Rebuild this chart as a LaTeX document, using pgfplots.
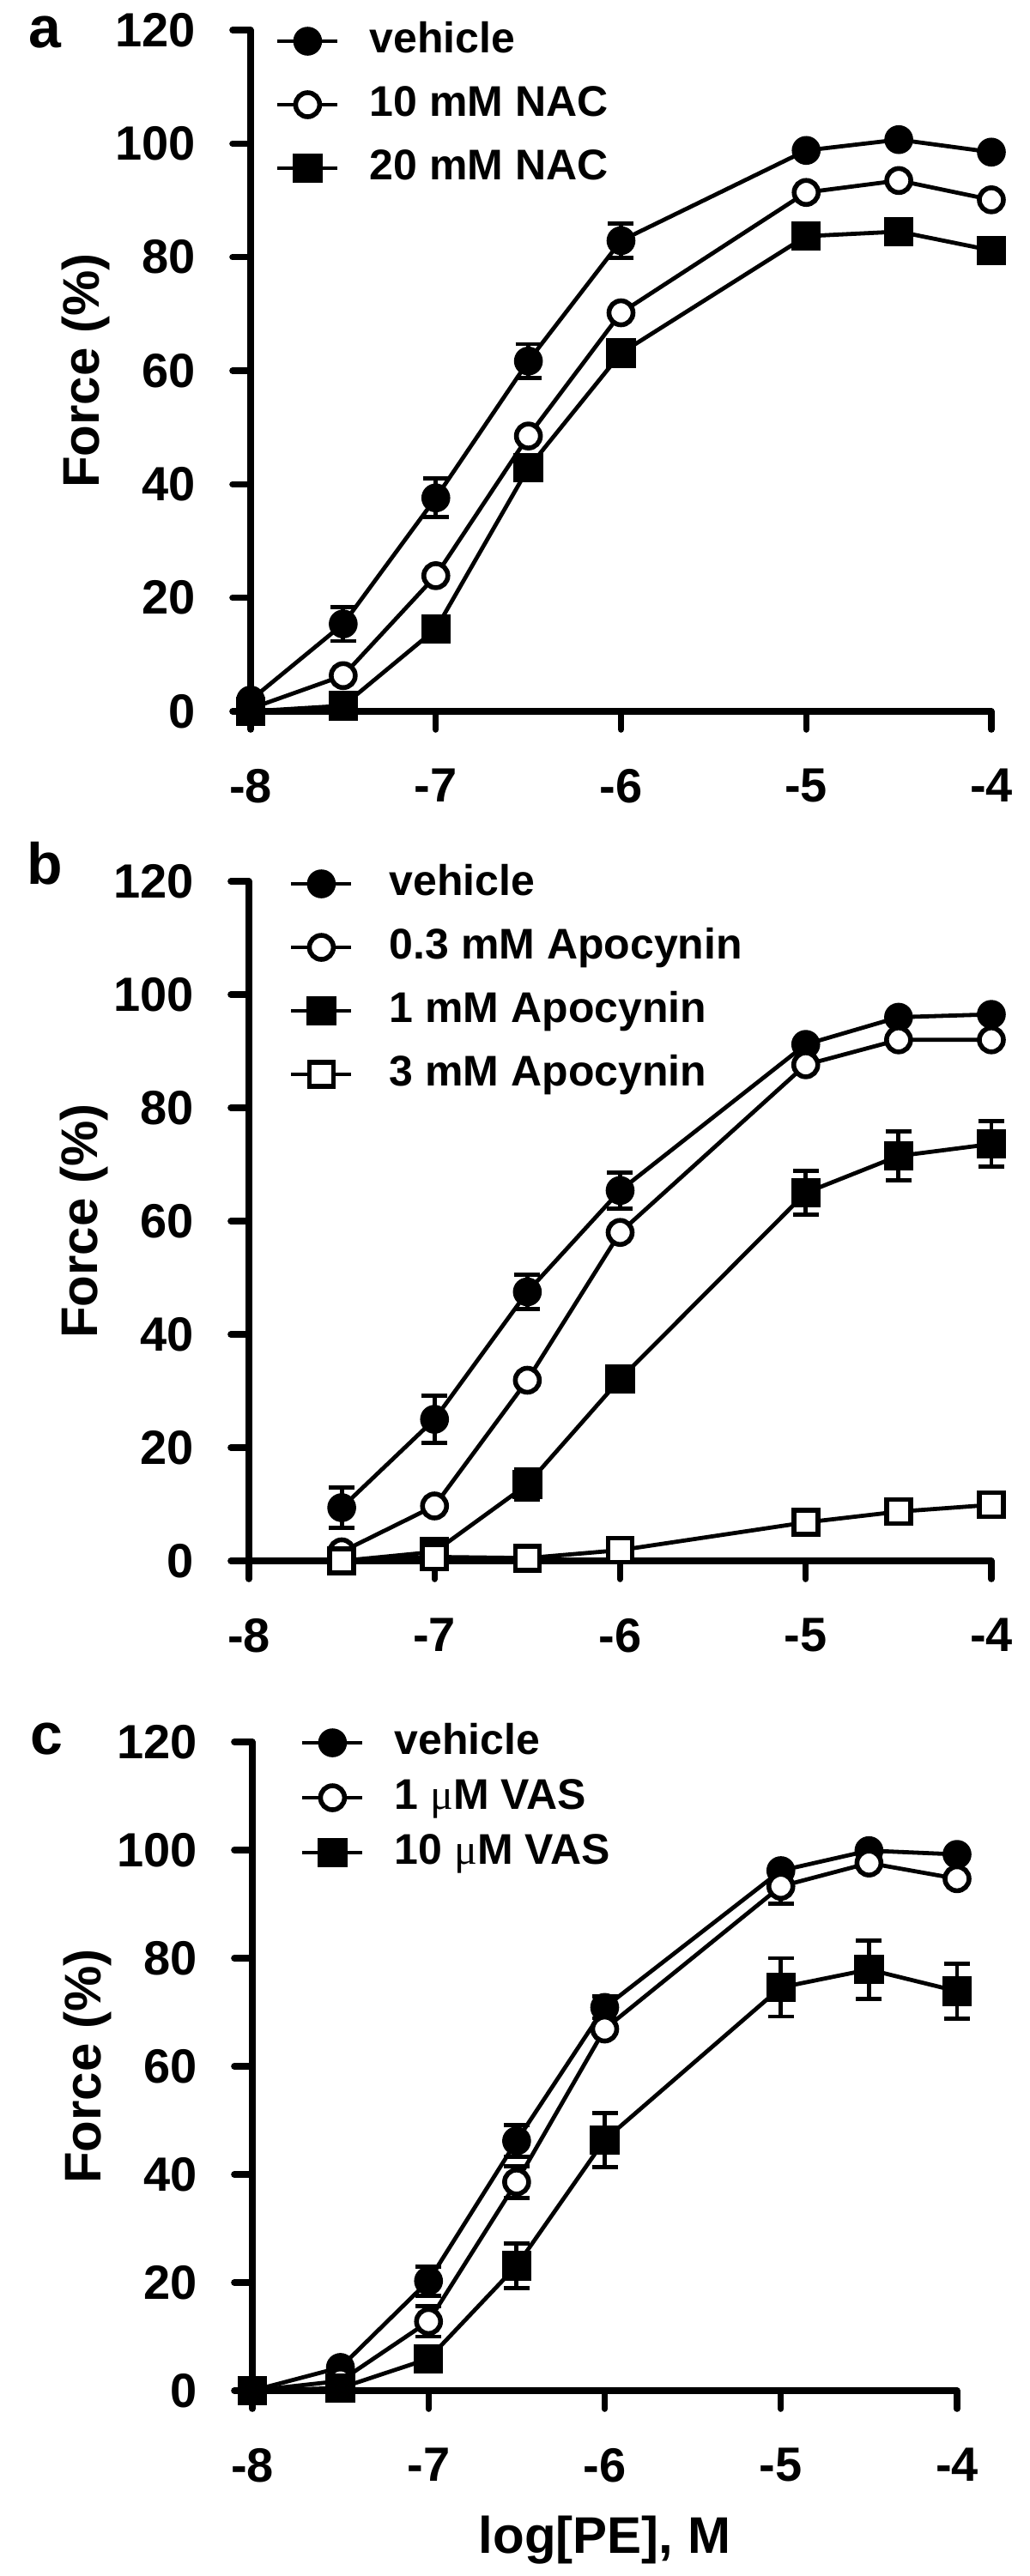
\documentclass[border=0pt]{standalone}
\usepackage{fontspec}
\setmainfont{Liberation Sans}
\newfontfamily\mufont{Liberation Serif}
\usepackage{pgfplots}
\pgfplotsset{compat=1.18}

\tikzset{lett/.style={anchor=base west, inner sep=0pt, font=\fontsize{17}{17}\selectfont\bfseries}}

\pgfplotsset{
  panel/.style={
    scale only axis, clip=false,
    xmin=-8, xmax=-4, ymin=0, ymax=120,
    axis x line=bottom, axis y line=left,
    axis line style={-, line width=1.8pt, line cap=round},
    xtick={-8,-7,-6,-5,-4}, ytick={0,20,40,60,80,100,120},
    tick align=outside, major tick length=5.3pt,
    tick style={line width=1.8pt, black, line cap=round},
    /pgf/number format/assume math mode=true,
    ticklabel style={font=\fontsize{14}{14}\selectfont\bfseries},
    xticklabel style={anchor=north, inner sep=0pt, yshift=-11.25pt},
    yticklabel style={anchor=east, inner sep=0pt, xshift=-10.5pt},
    ylabel={Force (\%)},
    every axis y label/.style={at={(axis description cs:0,0.5)}, xshift=-48pt, rotate=90, anchor=center, font=\fontsize{15}{15}\selectfont\bfseries},
    legend style={draw=none, fill=none, inner sep=0pt, outer sep=0pt, anchor=north west, at={(axis description cs:0,1)}, xshift=7.25pt, yshift=2.5pt,
      font=\fontsize{12.5}{12.5}\selectfont\bfseries, row sep=7pt,
      nodes={inner sep=0pt, text height=9pt, text depth=2.5pt},
      /tikz/every odd column/.append style={column sep=8.75pt}},
    legend cell align=left,
    legend image code/.code={\draw[mark repeat=2,mark phase=2,#1] plot coordinates {(0pt,0pt) (8.75pt,0pt) (17.5pt,0pt)};},
  },
  ln/.style={black, line width=1.2pt},
  fc/.style={ln, mark=*, mark size=3.6pt, mark options={solid, fill=black, line width=1.2pt}},
  oc/.style={ln, mark=*, mark size=3.5pt, mark options={solid, fill=white, line width=1.4pt}},
  fs/.style={ln, mark=square*, mark size=3.7pt, mark options={solid, fill=black, line width=1.2pt}},
  os/.style={ln, mark=square*, mark size=3.5pt, mark options={solid, fill=white, line width=1.4pt}},
  errb/.style={only marks, mark=none, forget plot, error bars/.cd, y dir=both, y explicit,
    error bar style={line width=1.2pt, black, solid},
    error mark options={rotate=90, line width=1.2pt, black, mark size=3.75pt}},
}

\begin{document}
\begin{tikzpicture}
\useasboundingbox (0,0) rectangle (300pt,-750.5pt);

% panel a
\begin{axis}[panel, width=215.75pt, height=198.5pt, at={(73pt,-207.25pt)}, anchor=south west]
\addplot[errb] coordinates {(-7.5,15.4) +- (0,3) (-7,37.6) +- (0,3.4) (-6.5,61.7) +- (0,3) (-6,82.9) +- (0,3)};
\addplot[fc] coordinates {(-8,2) (-7.5,15.4) (-7,37.6) (-6.5,61.7) (-6,82.9) (-5,98.8) (-4.5,100.7) (-4,98.5)};
\addplot[oc] coordinates {(-8,0.5) (-7.5,6.3) (-7,23.9) (-6.5,48.5) (-6,70.2) (-5,91.4) (-4.5,93.5) (-4,90.1)};
\addplot[fs] coordinates {(-8,0) (-7.5,1) (-7,14.5) (-6.5,42.9) (-6,63.1) (-5,83.7) (-4.5,84.5) (-4,81.2)};
\legend{vehicle, 10 mM NAC, 20 mM NAC}
\node[lett, xshift=-64.75pt, yshift=-5pt] at (rel axis cs:0,1) {a};
\end{axis}

% panel b
\begin{axis}[panel, width=216.25pt, height=198pt, at={(72.5pt,-454.75pt)}, anchor=south west,
  legend style={xshift=4.5pt, yshift=2.5pt, /tikz/every odd column/.append style={column sep=10.5pt}}]
\addplot[errb] coordinates {(-7.5,9.4) +- (0,3.6) (-7,25) +- (0,4.2) (-6.5,47.5) +- (0,3) (-6,65.4) +- (0,3.2)};
\addplot[errb] coordinates {(-6.5,13.5) +- (0,2.7) (-5,65) +- (0,3.9) (-4.5,71.5) +- (0,4.3) (-4,73.6) +- (0,4)};
\addplot[fc] coordinates {(-7.5,9.4) (-7,25) (-6.5,47.5) (-6,65.4) (-5,91.2) (-4.5,96) (-4,96.5)};
\addplot[oc] coordinates {(-7.5,1.6) (-7,9.7) (-6.5,31.9) (-6,58) (-5,87.6) (-4.5,92) (-4,92)};
\addplot[fs] coordinates {(-7.5,0) (-7,1.6) (-6.5,13.5) (-6,32.1) (-5,65) (-4.5,71.5) (-4,73.6)};
\addplot[os] coordinates {(-7.5,0) (-7,0.7) (-6.5,0.5) (-6,1.9) (-5,6.8) (-4.5,8.7) (-4,9.9)};
\legend{vehicle, 0.3 mM Apocynin, 1 mM Apocynin, 3 mM Apocynin}
\node[lett, xshift=-64.75pt, yshift=-0.75pt] at (rel axis cs:0,1) {b};
\end{axis}

% panel c
\begin{axis}[panel, width=205.25pt, height=189pt, at={(73.5pt,-696.5pt)}, anchor=south west,
  legend style={row sep=4.5pt, yshift=3pt, xshift=6.75pt},
  xlabel={log[PE], M},
  every axis x label/.style={at={(axis description cs:0.5,0)}, yshift=-43.5pt, anchor=center, font=\fontsize{15}{15}\selectfont\bfseries}]
\addplot[errb] coordinates {(-7,20.3) +- (0,2.7) (-6.5,46.2) +- (0,2.9) (-6,70.9) +- (0,2)};
\addplot[errb] coordinates {(-7,12.8) +- (0,2.8) (-6.5,38.6) +- (0,2.9) (-5,93.3) +- (0,3.2)};
\addplot[errb] coordinates {(-6.5,23.1) +- (0,4.1) (-6,46.4) +- (0,5) (-5,74.6) +- (0,5.4) (-4.5,77.9) +- (0,5.4) (-4,73.9) +- (0,5.1)};
\addplot[fc] coordinates {(-8,0) (-7.5,4.3) (-7,20.3) (-6.5,46.2) (-6,70.9) (-5,96.2) (-4.5,99.9) (-4,99.2)};
\addplot[oc] coordinates {(-8,0) (-7.5,1.8) (-7,12.8) (-6.5,38.6) (-6,66.9) (-5,93.3) (-4.5,97.6) (-4,94.7)};
\addplot[fs] coordinates {(-8,0) (-7.5,0.5) (-7,5.9) (-6.5,23.1) (-6,46.4) (-5,74.6) (-4.5,77.9) (-4,73.9)};
\legend{vehicle, 1 {\mufont\mdseries μ}M VAS, 10 {\mufont\mdseries μ}M VAS}
\node[lett, xshift=-64.75pt, yshift=-3.5pt] at (rel axis cs:0,1) {c};
\end{axis}
\end{tikzpicture}
\end{document}
